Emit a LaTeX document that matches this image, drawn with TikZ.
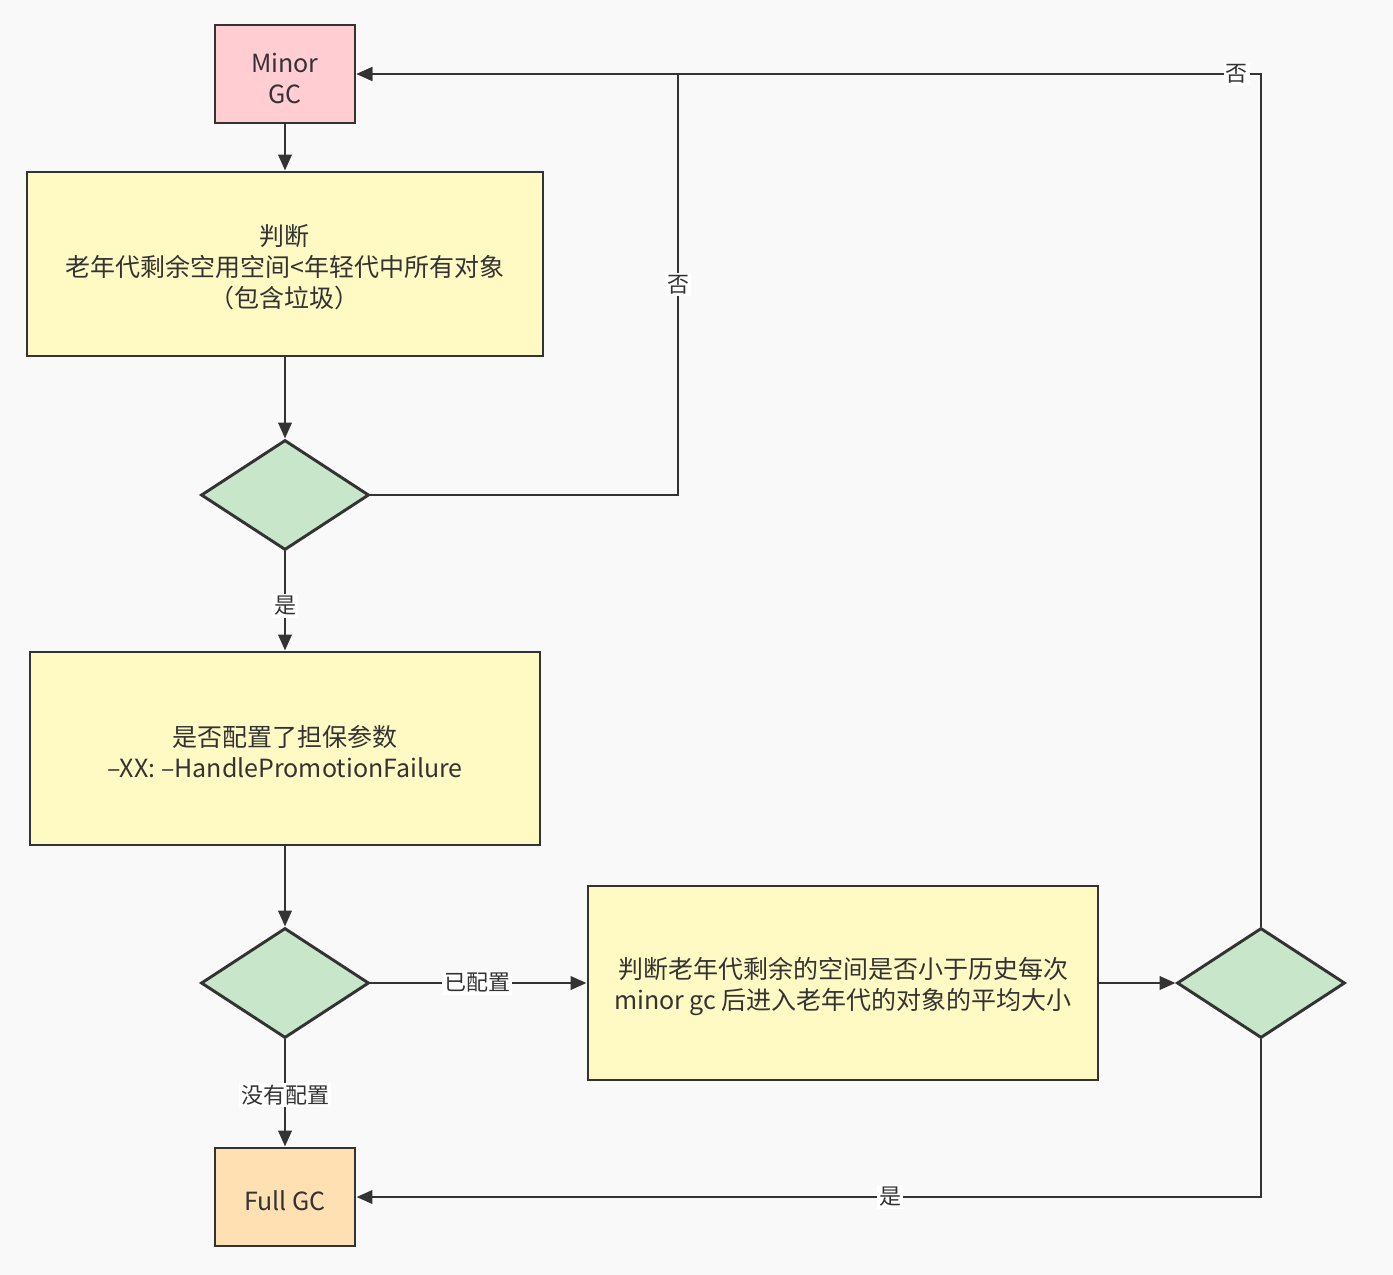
\documentclass[tikz,border=0pt]{standalone}
\usepackage{fontspec}
\setmainfont{Noto Sans CJK SC}
\usetikzlibrary{shapes.geometric,arrows.meta}
\definecolor{bgc}{HTML}{F9F9F9}
\definecolor{linec}{HTML}{333333}
\definecolor{pinkc}{HTML}{FFCDD2}
\definecolor{yellowc}{HTML}{FFF9C4}
\definecolor{greenc}{HTML}{C8E6C9}
\definecolor{orangec}{HTML}{FFE0B2}
\newcommand{\lift}{\rule{0pt}{21pt}}
\tikzset{
  base/.style={draw=linec, line width=2.2pt, text=linec, align=center, inner sep=0pt,
    font=\fontsize{18.75pt}{23.25pt}\selectfont},
  gcbox/.style={base, rectangle, minimum width=105pt, minimum height=73.5pt},
  bigbox/.style={base, rectangle, fill=yellowc, minimum width=382.5pt, minimum height=145pt},
  decide/.style={base, diamond, fill=greenc, minimum width=126pt, minimum height=82.5pt},
  conn/.style={draw=linec, line width=2.1pt, -{Triangle[length=12pt,width=10pt]}},
  lbl/.style={fill=white, text=linec, inner sep=1.5pt, font=\fontsize{16.5pt}{18pt}\selectfont}
}
\begin{document}
\begin{tikzpicture}[x=0.75pt,y=-0.75pt]
\fill[bgc] (0,0) rectangle (1393,1275);
\useasboundingbox (0,0) rectangle (1393,1275);

\node[gcbox, fill=pinkc] (minor) at (285,74) {\lift Minor\\GC};
\node[bigbox, minimum width=387pt, minimum height=138pt] (b1) at (285,264) {\lift 判断\\老年代剩余空用空间<年轻代中所有对象\\（包含垃圾）};
\node[decide] (d1) at (285,495) {};
\node[bigbox, minimum height=144.75pt] (b2) at (285,748.5) {\lift 是否配置了担保参数\\–XX: –HandlePromotionFailure};
\node[decide] (d2) at (285,983) {};
\node[gcbox, fill=orangec] (full) at (285,1197) {\lift Full GC};
\node[bigbox, minimum height=145.5pt] (b3) at (843,983) {\lift 判断老年代剩余的空间是否小于历史每次\\minor gc 后进入老年代的对象的平均大小};
\node[decide] (d3) at (1261,983) {};

\coordinate (c1) at (678,495);
\coordinate (c2) at (678,74);
\coordinate (c3) at (1261,74);
\coordinate (c4) at (1261,1197);

\draw[conn] (minor) -- (b1);
\draw[conn] (b1) -- (d1);
\draw[conn] (d1.east) -- (c1) -- node[lbl]{否} (c2) -- (minor.east);
\draw[conn] (d1) -- node[lbl, pos=0.55]{是} (b2);
\draw[conn] (b2) -- (d2);
\draw[conn] (d2.east) -- node[lbl, pos=0.495]{已配置} (b3.west);
\draw[conn] (d2) -- node[lbl, pos=0.52]{没有配置} (full);
\draw[conn] (b3.east) -- (d3.west);
\draw[conn] (d3.north) -- (c3) -- node[lbl, pos=0.027]{否} (minor.east);
\draw[conn] (d3.south) -- (c4) -- node[lbl, pos=0.41]{是} (full.east);
\end{tikzpicture}
\end{document}
